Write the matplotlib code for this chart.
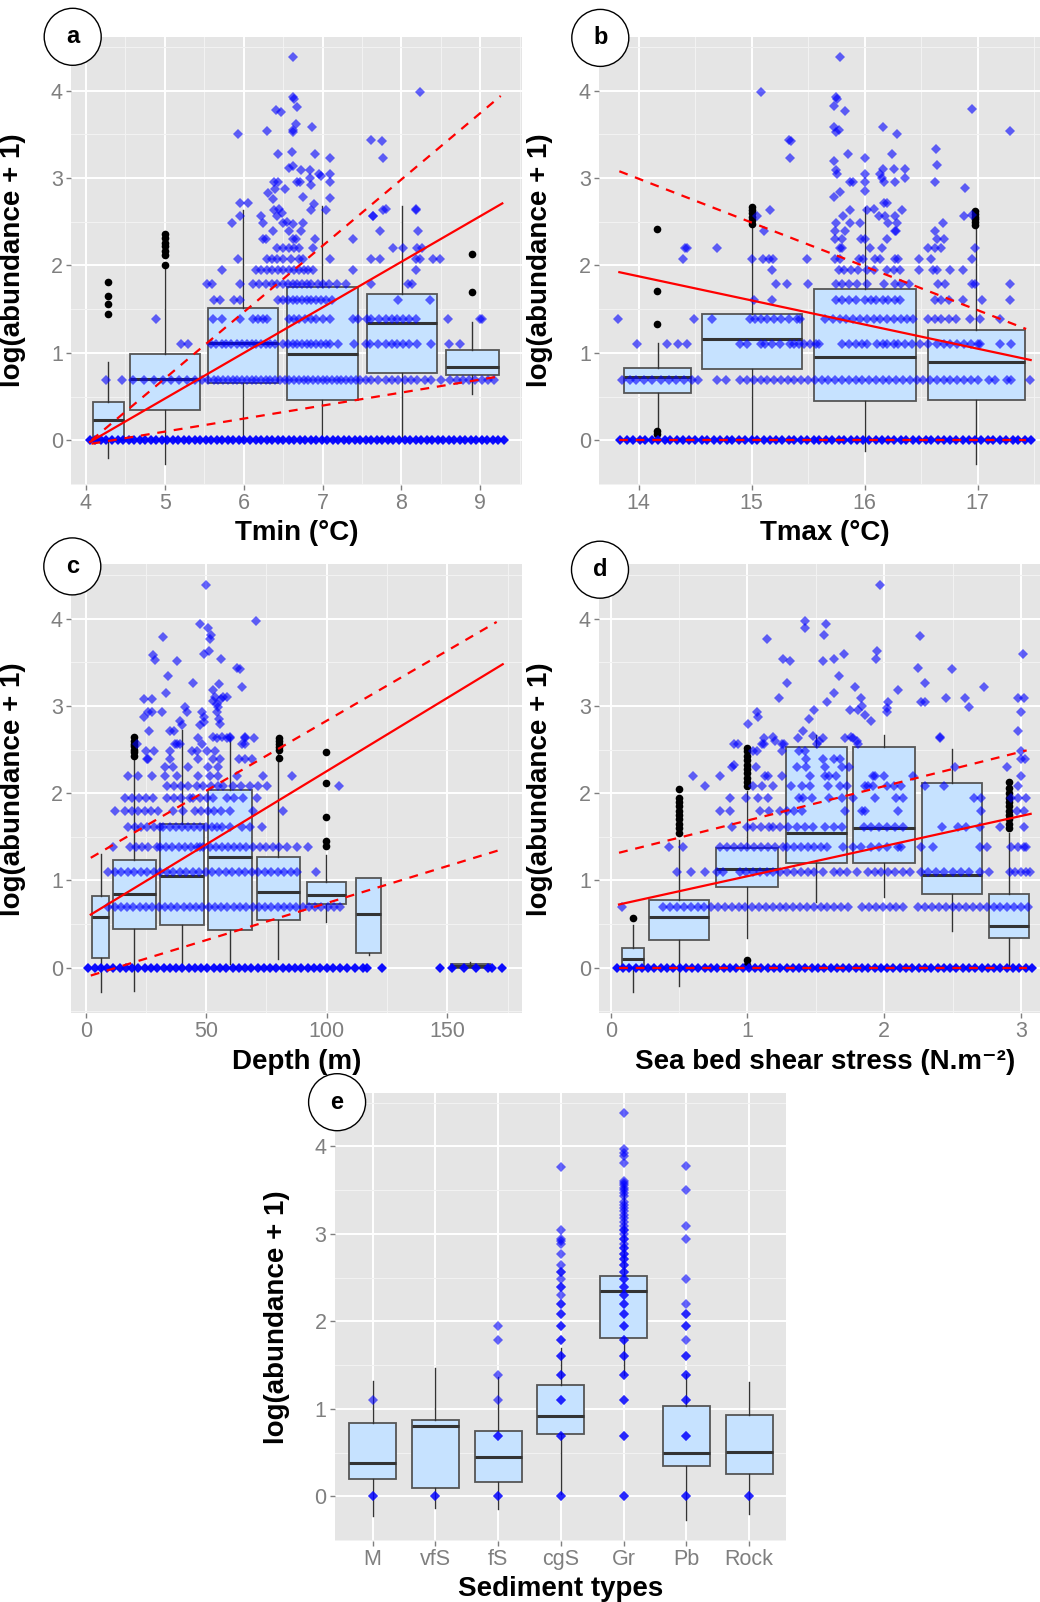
import matplotlib
matplotlib.use('Agg')
import matplotlib.pyplot as plt
from matplotlib.patches import Ellipse
from matplotlib.ticker import FixedLocator

plt.rcParams['font.family'] = ['Liberation Sans', 'DejaVu Sans']

W, H = 1040, 1602

# ---------------- shared discrete levels of log(abundance+1) ----------------
levels = [0.0, 0.693, 1.099, 1.386, 1.609, 1.792, 1.946, 2.079, 2.197, 2.303, 2.398, 2.485, 2.565, 2.639]

# ---------------- panel a : Tmin ----------------
tmin_rows = [
    [4.05,4.12,4.19,4.26,4.33,4.40,4.47,4.54,4.61,4.68,4.75,4.82,4.89,4.96,5.03,5.10,5.17,5.24,5.31,5.38,5.45,5.52,5.59,5.66,5.73,5.80,5.87,5.94,6.01,6.08,6.15,6.22,6.29,6.36,6.43,6.50,6.57,6.64,6.71,6.78,6.85,6.92,6.99,7.06,7.13,7.20,7.27,7.34,7.41,7.48,7.55,7.62,7.69,7.76,7.83,7.90,7.97,8.04,8.11,8.18,8.25,8.32,8.39,8.46,8.53,8.60,8.67,8.74,8.81,8.88,8.95,9.02,9.09,9.16,9.23,9.30],
    [4.26,4.46,4.6,4.73,4.86,4.98,5.08,5.18,5.28,5.38,5.47,5.55,5.62,5.68,5.74,5.8,5.86,5.92,5.98,6.04,6.1,6.16,6.22,6.28,6.34,6.4,6.46,6.52,6.58,6.64,6.7,6.76,6.82,6.88,6.94,7.0,7.06,7.12,7.18,7.24,7.3,7.36,7.42,7.48,7.55,7.62,7.7,7.8,7.88,7.96,8.05,8.12,8.2,8.3,8.38,8.5,8.62,8.7,8.78,8.86,8.94,9.02,9.1,9.18],
    [5.2,5.3,5.58,5.65,5.72,5.78,5.84,5.92,5.98,6.04,6.1,6.16,6.22,6.28,6.34,6.4,6.5,6.56,6.62,6.68,6.74,6.8,6.86,6.92,6.98,7.04,7.1,7.2,7.4,7.55,7.6,7.7,7.8,7.88,7.95,8.02,8.1,8.2,8.38,8.6,8.74],
    [4.89,5.61,5.72,5.95,6.12,6.18,6.24,6.3,6.58,6.64,6.7,6.78,6.85,6.92,7.0,7.1,7.39,7.45,7.56,7.62,7.72,7.8,7.88,7.95,8.02,8.1,8.18,8.59,9.0,9.02],
    [5.62,5.7,5.88,5.95,6.44,6.5,6.56,6.62,6.68,6.74,6.8,6.86,6.92,6.98,7.05,7.12,7.96,8.36],
    [5.53,5.6,5.95,6.12,6.2,6.28,6.36,6.42,6.5,6.56,6.62,6.68,6.74,6.8,6.86,6.94,7.0,7.08,7.18,7.3,7.62,8.08,8.14],
    [5.72,6.16,6.22,6.3,6.36,6.44,6.5,6.58,6.64,6.7,6.76,6.82,6.88,7.39,8.19],
    [5.93,6.29,6.36,6.42,6.5,6.6,6.7,6.75,7.09,7.62,7.73,8.19,8.24,8.4,8.49],
    [6.42,6.5,6.58,6.64,6.7,6.88,7.9,8.02,8.2,8.26],
    [6.25,6.28,6.63,6.66,6.9,7.39],
    [6.37,6.58,6.73,7.73,8.21],
    [5.85,6.25,6.5,6.75],
    [5.95,6.22,6.42,7.64],
    [6.39,6.86,7.05,7.77,8.19],
]
tmin_hi_x = [5.93,5.95,6.05,6.29,6.41,6.47,6.61,6.63,6.63,6.64,6.68,6.66,6.62,6.63,6.87,8.23,7.62,7.76,7.77,7.1,6.9,6.44,6.58,6.62,6.73,6.84,6.96,6.98,7.09,7.1,6.84,6.86,6.72,6.67,6.39,6.43,6.31,6.37,6.75,6.89,7.09,7.64,7.8,8.19,6.4,6.53,6.45,6.48,6.55,6.62]
tmin_hi_y = [3.51,2.72,2.72,3.54,3.78,3.76,3.30,4.38,3.93,3.9,3.81,3.62,3.53,3.55,3.59,3.98,3.44,3.42,3.23,3.23,3.27,3.27,3.12,3.14,3.09,3.09,3.05,3.02,3.05,2.95,3.0,2.92,2.95,2.95,2.95,2.95,2.83,2.76,2.78,2.7,2.77,2.57,2.65,2.65,2.88,2.88,2.65,2.6,2.5,2.48]
tmin_out_x = [4.28,4.28,4.28,4.28,5.0,5.0,5.0,5.0,5.0,5.0,5.0,8.9,8.9]
tmin_out_y = [1.81,1.65,1.56,1.45,2.01,2.12,2.17,2.22,2.26,2.31,2.36,2.13,1.70]
tmin_box_pos = [4.285, 5.0, 5.997, 6.999, 8.012, 8.9]
tmin_box_w = [0.385, 0.893, 0.887, 0.906, 0.884, 0.68]
tmin_q1 = [0.0, 0.347, 0.65, 0.457, 0.768, 0.741]
tmin_med = [0.236, 0.70, 1.107, 0.985, 1.34, 0.835]
tmin_q3 = [0.433, 0.989, 1.517, 1.753, 1.675, 1.028]
tmin_lo = [-0.2, -0.276, 0.0, 0.0, 0.0, 0.53]
tmin_hi = [0.89, 1.98, 2.63, 2.68, 2.68, 1.35]
tmin_fit_x = [4.05, 9.28]
tmin_fit_y = [-0.02, 2.71]
tmin_up_x = [4.07, 9.26]
tmin_up_y = [0.0, 3.94]
tmin_lw_x = [4.07, 9.24]
tmin_lw_y = [-0.04, 0.73]

# ---------------- panel b : Tmax ----------------
tmax_rows = [
    [13.84,13.90,13.95,14.01,14.06,14.12,14.17,14.23,14.28,14.34,14.39,14.45,14.50,14.56,14.61,14.67,14.72,14.78,14.83,14.89,14.94,15.00,15.05,15.11,15.16,15.22,15.27,15.33,15.38,15.44,15.49,15.55,15.60,15.66,15.71,15.77,15.82,15.88,15.93,15.99,16.04,16.10,16.15,16.21,16.26,16.32,16.37,16.43,16.48,16.54,16.59,16.65,16.70,16.76,16.81,16.87,16.92,16.98,17.03,17.09,17.14,17.20,17.25,17.31,17.36,17.42,17.47],
    [13.85,13.92,13.98,14.05,14.12,14.2,14.27,14.33,14.4,14.47,14.53,14.69,14.77,14.9,14.96,15.02,15.08,15.14,15.2,15.26,15.32,15.38,15.44,15.5,15.56,15.62,15.68,15.74,15.8,15.86,15.92,15.98,16.04,16.1,16.16,16.22,16.28,16.34,16.4,16.46,16.52,16.58,16.64,16.7,16.76,16.82,16.88,16.94,17.0,17.1,17.15,17.26,17.3,17.46],
    [13.99,14.25,14.35,14.43,14.9,14.96,15.08,15.12,15.18,15.25,15.34,15.38,15.42,15.46,15.52,15.57,15.6,15.8,15.86,15.92,15.98,16.02,16.11,16.16,16.2,16.26,16.3,16.36,16.42,16.49,16.56,16.64,16.7,16.76,16.82,16.88,16.94,17.0,17.02,17.2,17.3],
    [13.82,14.49,14.65,14.99,15.03,15.08,15.14,15.2,15.26,15.33,15.4,15.43,15.65,15.72,15.78,15.84,15.9,15.96,16.02,16.08,16.14,16.2,16.26,16.32,16.38,16.43,16.56,16.62,16.68,16.75,16.81,16.93,17.02,17.2],
    [15.02,15.18,15.75,15.8,15.86,15.92,16.0,16.06,16.1,16.16,16.21,16.27,16.31,16.62,16.68,16.75,16.87,17.04,17.29],
    [15.22,15.31,15.5,15.75,15.8,15.86,15.93,16.02,16.17,16.27,16.32,16.39,16.65,16.71,16.95,16.98,17.29],
    [15.18,15.77,15.82,15.88,15.94,16.02,16.08,16.2,16.26,16.31,16.48,16.61,16.64,16.76,16.87],
    [14.39,15.0,15.1,15.15,15.19,15.49,15.74,15.78,15.95,15.99,16.09,16.14,16.27,16.3,16.48,16.59,16.95],
    [14.41,14.43,14.69,15.78,15.8,16.05,16.15,16.56,16.62,16.68,16.98],
    [15.74,15.8,15.97,16.0,16.2,16.64,16.7],
    [15.11,15.74,15.83,16.27,16.28,16.62],
    [15.75,15.87,15.96,16.21,16.29,16.69],
    [15.05,15.81,16.13,16.18,16.27,16.88],
    [15.16,15.87,16.02,16.33],
]
tmax_hi_x = [15.08,15.33,15.35,15.34,15.73,15.75,15.76,15.73,15.75,15.77,15.78,15.83,15.73,15.75,15.76,15.73,15.78,15.85,15.87,15.9,16.0,16.0,16.0,16.0,16.16,16.14,16.15,16.16,16.24,16.26,16.29,16.36,16.36,16.17,16.27,16.63,16.64,16.62,16.89,16.95,17.29,16.17,16.2,16.08,16.95]
tmax_hi_y = [3.98,3.44,3.42,3.23,3.82,3.93,3.9,3.59,3.53,3.55,4.38,3.77,3.19,3.09,3.05,2.78,2.84,3.27,2.95,2.95,3.23,3.05,2.95,2.85,3.59,3.05,3.0,3.1,3.27,3.1,3.51,3.1,3.0,2.95,2.95,3.33,3.15,2.95,2.89,3.79,3.54,2.72,2.72,2.65,2.58]
tmax_out_x = [14.16,14.16,14.16,14.16,14.16,15.0,15.0,15.0,15.0,15.0,15.0,16.98,16.98,16.98,16.98,16.98,16.98]
tmax_out_y = [2.42,1.71,1.33,0.07,0.1,2.48,2.52,2.56,2.6,2.64,2.67,2.46,2.5,2.53,2.56,2.59,2.62]
tmax_box_pos = [14.168, 15.004, 16.004, 16.988]
tmax_box_w = [0.59, 0.887, 0.908, 0.861]
tmax_q1 = [0.544, 0.82, 0.445, 0.465]
tmax_med = [0.729, 1.155, 0.958, 0.898]
tmax_q3 = [0.828, 1.442, 1.726, 1.261]
tmax_lo = [0.11, 0.0, -0.126, -0.276]
tmax_hi = [1.115, 2.44, 2.67, 2.43]
tmax_fit_x = [13.83, 17.47]
tmax_fit_y = [1.923, 0.918]
tmax_up_x = [13.83, 17.43]
tmax_up_y = [3.078, 1.273]
tmax_lw_x = [13.83, 17.43]
tmax_lw_y = [0.0, 0.0]

# ---------------- panel c : Depth ----------------
depth_rows = [
    [1.1,3.7,6.3,8.9,11.5,14.1,16.7,19.3,21.9,24.5,27.1,29.7,32.3,34.9,37.5,40.1,42.7,45.3,47.9,50.5,53.1,55.7,58.3,60.9,63.5,66.1,68.7,71.3,73.9,76.5,79.1,81.7,84.3,86.9,89.5,92.1,94.7,97.3,99.9,102.5,105.5,108.3,111.7,115.2,116.5,122.8,147,152,157,162,167,168.4,172.5],
    [9.4,12,14.6,17.2,19.8,22.4,25,27.6,30.2,32.8,35.4,38,40.6,43.2,45.8,48.4,51,53.6,56.2,58.8,61.4,64,66.6,69.2,71.8,74.4,77,79.6,82.2,84.8,87.4,90,92.6,95.2,97.8,100.4,103,105.5],
    [9.4,12.1,14.8,17.5,20.2,22.9,25.6,28.3,31,33.7,36.4,39.1,41.8,44.5,47.2,49.9,52.6,55.3,58,60.7,63.4,66.1,68.8,71.5,74.2,76.9,79.6,82.3,85,87.5,95.5],
    [11.5,18.4,21,23.5,26,29.4,30.8,33.5,36,38.5,41,43.5,46,47.4,48.8,51.5,54,56.5,59,61.5,64,66.5,69.5,72.3,75,77.5,80,83.4,87.5,92.4],
    [17.7,20.3,23,25.6,28.3,30.8,32.2,35,37.5,40,42.5,45,47.5,50,52.5,54.3,56.4,59.9,64.7,68,73],
    [12.2,16.3,19,21.7,24.4,27,30,36.4,40.5,45.3,48,50.7,53.4,56.1,59.9,69.5,82],
    [16.3,19,22,25,28,33.6,36.5,39.5,43.3,44.7,47.5,50.3,53,58.5,61.5,65.4,70.9],
    [33.6,36.5,39.5,42.5,46,48.8,52,55,57.1,61.2,64.5,68,71.5,75.1,105.1],
    [17.7,21.8,27.4,32.9,37.7,46.7,51.6,55,62.6,73.7,85.4],
    [32.9,36.4,42.6,50.9,55],
    [25.3,26,35,46.7,53,55.8,63.4,66.1,68.9],
    [25,28.3,35,44,46,50.2,53.6],
    [21.4,37,39.1,48.1,66.1],
    [46.7,54.3,58.5,60,66.1,70],
]
depth_hi_x = [49.8,47.4,50.9,51.8,51.5,32.2,38,28.1,28.8,34.3,33.2,44.4,49.2,51.3,56,52.7,55.2,62.6,64,65,70.6,24.3,27.7,24,25.7,27.4,31.8,26.2,35,36.6,37.7,41.2,41.9,39.1,39.8,48.1,49,47.4,49.1,52.9,53.6,54.3,55,56,57.1,54.6,55.3,55.8,58.5,53,56.4,60,64.7,66]
depth_hi_y = [4.39,3.94,3.9,3.82,3.77,3.79,3.52,3.59,3.53,3.34,3.15,3.26,3.6,3.63,3.54,3.18,3.25,3.44,3.42,3.22,3.98,3.08,3.08,2.88,2.93,2.93,2.93,2.71,2.71,2.71,2.57,2.99,2.93,2.83,2.78,2.93,2.88,2.78,2.82,3.06,3.1,3.02,2.99,3.08,3.1,2.93,2.85,2.8,3.1,2.65,2.65,2.65,2.57,2.65]
depth_out_x = [20.2,20.2,20.2,20.2,20.2,20.2,20.2,80,80,80,80,80,80,99.5,99.5,99.5,99.5,99.5]
depth_out_y = [2.43,2.47,2.5,2.54,2.57,2.6,2.64,2.4,2.5,2.53,2.56,2.6,2.63,2.47,2.12,1.73,1.45,1.4]
depth_box_pos = [6.15, 20.1, 39.95, 59.95, 79.9, 99.8, 117.4, 159.55]
depth_box_w = [6.7, 17.8, 17.9, 18.1, 18.0, 16.0, 10.2, 16.3]
depth_q1 = [0.109, 0.446, 0.492, 0.434, 0.543, 0.729, 0.174, 0.0]
depth_med = [0.581, 0.845, 1.047, 1.267, 0.872, 0.833, 0.616, 0.02]
depth_q3 = [0.826, 1.24, 1.647, 2.035, 1.267, 0.98, 1.027, 0.04]
depth_lo = [-0.283, -0.264, 0.04, 0.04, 0.1, 0.523, 0.143, 0.0]
depth_hi = [1.3, 2.4, 2.73, 2.65, 2.55, 1.287, 1.027, 0.07]
depth_fit_x = [2.1, 173]
depth_fit_y = [0.609, 3.48]
depth_up_x = [2.1, 170.5]
depth_up_y = [1.26, 3.965]
depth_lw_x = [2.1, 171.2]
depth_lw_y = [-0.09, 1.345]

# ---------------- panel d : sea bed shear stress ----------------
shear_rows = [
    [0.044,0.09,0.136,0.182,0.228,0.274,0.32,0.366,0.412,0.458,0.504,0.55,0.596,0.642,0.688,0.734,0.78,0.826,0.872,0.918,0.964,1.01,1.056,1.102,1.148,1.194,1.24,1.286,1.332,1.378,1.424,1.47,1.516,1.562,1.608,1.654,1.7,1.746,1.792,1.838,1.884,1.93,1.976,2.022,2.068,2.114,2.16,2.206,2.252,2.298,2.344,2.39,2.436,2.482,2.528,2.574,2.62,2.666,2.712,2.758,2.804,2.85,2.896,2.942,2.988,3.034,3.078],
    [0.08,0.385,0.435,0.485,0.535,0.585,0.635,0.685,0.735,0.785,0.835,0.885,0.935,0.985,1.035,1.085,1.135,1.185,1.235,1.285,1.335,1.385,1.435,1.485,1.535,1.585,1.635,1.685,1.735,1.84,1.89,1.94,1.99,2.04,2.09,2.14,2.25,2.3,2.35,2.4,2.45,2.5,2.55,2.6,2.65,2.7,2.75,2.8,2.85,2.9,2.95,3.0,3.05],
    [0.483,0.585,0.69,0.775,0.824,0.946,0.99,1.04,1.09,1.14,1.19,1.24,1.29,1.34,1.39,1.44,1.49,1.55,1.63,1.68,1.73,1.8,1.88,1.93,1.98,2.03,2.08,2.14,2.19,2.27,2.32,2.38,2.44,2.5,2.56,2.62,2.7,2.77,2.92,2.96,3.0,3.04,3.07],
    [0.427,0.527,0.8,0.85,0.9,0.95,1.0,1.05,1.1,1.15,1.2,1.26,1.29,1.34,1.39,1.44,1.49,1.54,1.58,1.7,1.77,1.83,1.9,1.96,2.02,2.1,2.12,2.27,2.36,2.7,2.75,2.93,2.98,3.02,3.04],
    [0.885,0.994,1.04,1.1,1.16,1.19,1.24,1.3,1.36,1.42,1.48,1.57,1.63,1.69,1.85,1.9,1.96,2.02,2.08,2.14,2.42,2.54,2.6,2.7,2.85,3.02],
    [0.8,0.87,1.09,1.16,1.24,1.29,1.34,1.4,1.71,1.84,1.86,2.1,2.71,2.97,3.02],
    [0.87,0.99,1.08,1.15,1.38,1.41,1.47,1.6,1.69,1.77,1.93,2.09,2.14,2.66,2.71,2.93,2.98,3.04],
    [0.69,1.04,1.11,1.19,1.32,1.4,1.46,1.59,1.68,1.73,1.86,1.88,1.92,2.02,2.07,2.12,2.3,2.44,2.98],
    [0.6,0.8,1.13,1.15,1.25,1.46,1.57,1.6,1.65,1.92,1.93,2.0,2.21,3.0],
    [0.89,1.06,1.36,1.43,1.57,1.69,1.74,2.52,2.9],
    [1.43,1.55,1.63,1.68,3.0,3.03],
    [1.04,1.07,1.25,1.38,1.42,3.0],
    [0.9,1.11,1.25,1.51,1.81],
    [1.12,1.37,1.55,1.71,1.77,2.41],
]
shear_hi_x = [1.969,1.421,1.421,1.574,1.56,1.146,1.258,1.312,1.292,1.233,1.55,1.633,1.708,1.67,1.633,1.585,1.49,1.448,1.405,1.786,1.83,1.835,1.81,1.86,1.9,1.75,1.94,1.95,2.02,2.03,2.02,2.1,2.262,2.25,2.295,2.27,2.3,2.45,2.495,2.59,2.62,2.73,3.017,2.98,3.02,3.0,2.98,2.41,1.067,1.08,1.002,0.93,0.9,1.19,1.12,1.2,1.265,1.52,1.48,1.76,1.8]
shear_hi_y = [4.39,3.98,3.9,3.94,3.81,3.77,3.54,3.52,3.27,3.09,3.52,3.54,3.6,3.34,3.15,3.05,2.95,2.85,2.72,3.22,3.09,3.0,2.95,2.9,2.83,2.95,3.54,3.63,2.98,3.05,2.93,3.18,3.8,3.44,3.26,3.05,3.05,3.09,3.42,3.09,2.99,3.22,3.6,3.09,3.09,2.93,2.71,2.65,2.93,2.88,2.79,2.57,2.33,2.65,2.57,2.6,2.57,2.6,2.66,2.65,2.6]
shear_out_x = [0.16] + [0.5]*10 + [1.0]*12 + [2.91]*11
shear_out_y = [0.57,1.55,1.6,1.65,1.7,1.75,1.8,1.85,1.9,1.95,2.05,2.08,2.13,2.18,2.23,2.28,2.33,2.38,2.43,2.48,2.52,0.085,0.03,1.6,1.65,1.7,1.75,1.8,1.85,1.9,1.95,2.0,2.06,2.13]
shear_box_pos = [0.16, 0.5, 1.0, 1.503, 2.0, 2.494, 2.911]
shear_box_w = [0.161, 0.443, 0.453, 0.446, 0.451, 0.439, 0.295]
shear_q1 = [0.0, 0.318, 0.93, 1.202, 1.202, 0.841, 0.337]
shear_med = [0.105, 0.578, 1.132, 1.547, 1.6, 1.066, 0.473]
shear_q3 = [0.221, 0.771, 1.368, 2.527, 2.527, 2.12, 0.841]
shear_lo = [-0.283, -0.213, 0.337, 0.756, 0.806, 0.426, 0.0]
shear_hi = [0.484, 1.47, 2.03, 2.674, 2.663, 2.51, 1.55]
shear_fit_x = [0.061, 3.071]
shear_fit_y = [0.725, 1.764]
shear_up_x = [0.061, 3.042]
shear_up_y = [1.318, 2.492]
shear_lw_x = [0.061, 3.042]
shear_lw_y = [0.0, 0.0]

# ---------------- panel e : sediment types ----------------
sed_types = ['M', 'vfS', 'fS', 'cgS', 'Gr', 'Pb', 'Rock']
sed_M = [0, 0, 1.099]
sed_vfS = [0, 0]
sed_fS = [0, 0, 0.693, 0.693, 1.099, 1.386, 1.792, 1.946]
sed_cgS = [0, 0, 0.693, 0.693, 1.099, 1.099, 1.386, 1.386, 1.609, 1.609, 1.792, 1.792, 1.946, 1.946, 2.079, 2.079, 2.197, 2.197, 2.303, 2.398, 2.398, 2.485, 2.565, 2.565, 2.639, 2.77, 2.89, 2.92, 2.94, 3.05, 3.76]
sed_Gr = [0, 0, 0.693, 0.693, 1.099, 1.099, 1.386, 1.386, 1.609, 1.609, 1.792, 1.792, 1.946, 1.946, 2.079, 2.079, 2.197, 2.197, 2.303, 2.303, 2.398, 2.398, 2.485, 2.485, 2.565, 2.565, 2.639, 2.639, 2.708, 2.708, 2.773, 2.773, 2.833, 2.833, 2.89, 2.944, 2.944, 2.996, 3.045, 3.045, 3.091, 3.136, 3.178, 3.219, 3.258, 3.296, 3.33, 3.37, 3.43, 3.47, 3.5, 3.53, 3.555, 3.58, 3.61, 3.81, 3.89, 3.93, 3.97, 4.38]
sed_Pb = [0, 0, 0.693, 0.693, 1.099, 1.099, 1.386, 1.386, 1.609, 1.609, 1.792, 1.946, 1.946, 2.079, 2.079, 2.197, 2.485, 2.94, 3.09, 3.5, 3.78]
sed_Rock = [0, 0]
sed_q1 = [0.2, 0.097, 0.163, 0.713, 1.81, 0.349, 0.26]
sed_med = [0.376, 0.802, 0.453, 0.919, 2.345, 0.492, 0.504]
sed_q3 = [0.833, 0.872, 0.752, 1.275, 2.523, 1.035, 0.926]
sed_lo = [-0.225, -0.128, -0.14, 0.03, 1.39, -0.275, -0.205]
sed_hi = [1.318, 1.469, 1.364, 1.694, 3.55, 1.40, 1.306]

# ---------------- styling ----------------
BG = '#E5E5E5'
BOX_FILL = '#C6E2FF'
PT_COL = '#0000FF'
TICK_COL = '#7F7F7F'
PT_MS = 4.7
PT_ALPHA = 0.6
ZERO_ALPHA = 0.95   # the zero row is many overlapping observations
TITLE_FS = 20
TICK_FS = 15.5
DASH = (0, (4.0, 3.5))


def rect(left, top, right, bottom):
    return [left / W, 1 - bottom / H, (right - left) / W, (bottom - top) / H]


def style_axes(ax, xlim, ylim, xmaj, xmin, xticklabels=None):
    ax.set_facecolor(BG)
    for s in ax.spines.values():
        s.set_visible(False)
    ax.set_xlim(*xlim)
    ax.set_ylim(*ylim)
    ax.xaxis.set_major_locator(FixedLocator(xmaj))
    ax.xaxis.set_minor_locator(FixedLocator(xmin))
    ax.yaxis.set_major_locator(FixedLocator([0, 1, 2, 3, 4]))
    ax.yaxis.set_minor_locator(FixedLocator([-0.5, 0.5, 1.5, 2.5, 3.5, 4.5]))
    if xticklabels is not None:
        ax.set_xticklabels(xticklabels)
    ax.set_axisbelow(True)
    ax.grid(which='major', color='white', lw=1.4)
    ax.grid(which='minor', color='#F2F2F2', lw=0.8)
    ax.tick_params(which='major', length=3.4, width=1.0, color=TICK_COL,
                   labelcolor=TICK_COL, labelsize=TICK_FS, pad=2.5)
    ax.tick_params(which='minor', length=0)


def draw_boxes(ax, pos, widths, q1, med, q3, lo, hi):
    stats = []
    for i in range(len(pos)):
        stats.append(dict(med=med[i], q1=q1[i], q3=q3[i], whislo=lo[i], whishi=hi[i], fliers=[]))
    ax.bxp(stats, positions=pos, widths=widths, patch_artist=True, showfliers=False,
           showcaps=False, manage_ticks=False,
           boxprops=dict(facecolor=BOX_FILL, edgecolor='#555555', lw=1.3),
           medianprops=dict(color='#333333', lw=2.2),
           whiskerprops=dict(color='#333333', lw=1.0), zorder=2)


def draw_rows(ax, rows):
    for lvl, xs in zip(levels, rows):
        a = ZERO_ALPHA if lvl == 0.0 else PT_ALPHA
        ax.plot(xs, [lvl] * len(xs), ls='none', marker='D', ms=PT_MS, mew=0,
                color=PT_COL, alpha=a, zorder=3)


def draw_pts(ax, xs, ys):
    ax.plot(xs, ys, ls='none', marker='D', ms=PT_MS, mew=0,
            color=PT_COL, alpha=PT_ALPHA, zorder=3)


def draw_out(ax, xs, ys):
    ax.plot(xs, ys, ls='none', marker='o', ms=5.5, mew=0, color='black', zorder=2.5)


def draw_fit(ax, fx, fy, ux, uy, lx, ly):
    ax.plot(fx, fy, color='red', lw=1.6, zorder=4)
    ax.plot(ux, uy, color='red', lw=1.6, ls=DASH, zorder=4)
    ax.plot(lx, ly, color='red', lw=1.6, ls=DASH, zorder=4)


def labels(ax, xlab, ylab, ylab_x, xlab_y):
    ax.set_xlabel(xlab, fontsize=TITLE_FS, fontweight='bold', color='black')
    ax.set_ylabel(ylab, fontsize=TITLE_FS, fontweight='bold', color='black')
    ax.xaxis.set_label_coords(0.5, xlab_y)
    ax.yaxis.set_label_coords(ylab_x, 0.5)


fig = plt.figure(figsize=(W / 100, H / 100), dpi=100)
fig.patch.set_facecolor('white')

YLAB = 'log(abundance + 1)'

# panel a
ax = fig.add_axes(rect(71, 36.5, 522, 484.8))
style_axes(ax, (3.81, 9.53), (-0.51, 4.62), [4, 5, 6, 7, 8, 9], [3.5, 4.5, 5.5, 6.5, 7.5, 8.5, 9.5])
draw_boxes(ax, tmin_box_pos, tmin_box_w, tmin_q1, tmin_med, tmin_q3, tmin_lo, tmin_hi)
draw_out(ax, tmin_out_x, tmin_out_y)
draw_rows(ax, tmin_rows)
draw_pts(ax, tmin_hi_x, tmin_hi_y)
draw_fit(ax, tmin_fit_x, tmin_fit_y, tmin_up_x, tmin_up_y, tmin_lw_x, tmin_lw_y)
labels(ax, 'Tmin (°C)', YLAB, -0.1, -0.079)

# panel b
ax = fig.add_axes(rect(599, 36.5, 1051, 484.8))
style_axes(ax, (13.65, 17.65), (-0.51, 4.62), [14, 15, 16, 17], [13.5, 14.5, 15.5, 16.5, 17.5])
draw_boxes(ax, tmax_box_pos, tmax_box_w, tmax_q1, tmax_med, tmax_q3, tmax_lo, tmax_hi)
draw_out(ax, tmax_out_x, tmax_out_y)
draw_rows(ax, tmax_rows)
draw_pts(ax, tmax_hi_x, tmax_hi_y)
draw_fit(ax, tmax_fit_x, tmax_fit_y, tmax_up_x, tmax_up_y, tmax_lw_x, tmax_lw_y)
labels(ax, 'Tmax (°C)', YLAB, -0.102, -0.079)

# panel c
ax = fig.add_axes(rect(71, 564.3, 522, 1013.3))
style_axes(ax, (-6.1, 181.0), (-0.523, 4.626), [0, 50, 100, 150], [-25, 25, 75, 125, 175])
draw_boxes(ax, depth_box_pos, depth_box_w, depth_q1, depth_med, depth_q3, depth_lo, depth_hi)
draw_out(ax, depth_out_x, depth_out_y)
draw_rows(ax, depth_rows)
draw_pts(ax, depth_hi_x, depth_hi_y)
draw_fit(ax, depth_fit_x, depth_fit_y, depth_up_x, depth_up_y, depth_lw_x, depth_lw_y)
labels(ax, 'Depth (m)', YLAB, -0.1, -0.079)

# panel d
ax = fig.add_axes(rect(599, 564.3, 1051, 1013.3))
style_axes(ax, (-0.0855, 3.22), (-0.523, 4.626), [0, 1, 2, 3], [0.5, 1.5, 2.5, 3.5])
draw_boxes(ax, shear_box_pos, shear_box_w, shear_q1, shear_med, shear_q3, shear_lo, shear_hi)
draw_out(ax, shear_out_x, shear_out_y)
draw_rows(ax, shear_rows)
draw_pts(ax, shear_hi_x, shear_hi_y)
draw_fit(ax, shear_fit_x, shear_fit_y, shear_up_x, shear_up_y, shear_lw_x, shear_lw_y)
labels(ax, 'Sea bed shear stress (N.m\u207b\u00b2)', YLAB, -0.102, -0.079)

# panel e
ax = fig.add_axes(rect(334.7, 1093, 786.2, 1541))
cats = list(range(1, len(sed_types) + 1))
style_axes(ax, (0.397, 7.59), (-0.51, 4.61), cats, [], sed_types)
draw_boxes(ax, cats, [0.75] * 7, sed_q1, sed_med, sed_q3, sed_lo, sed_hi)
for c, vals in zip(cats, [sed_M, sed_vfS, sed_fS, sed_cgS, sed_Gr, sed_Pb, sed_Rock]):
    draw_pts(ax, [c] * len(vals), vals)
labels(ax, 'Sediment types', YLAB, -0.099, -0.079)

# panel letters
for letter, cx, cy in [('a', 72.7, 36.8), ('b', 600.3, 37.9), ('c', 72.3, 566.4), ('d', 600, 569.7), ('e', 337.1, 1102.2)]:
    fig.add_artist(Ellipse((cx / W, 1 - cy / H), 57 / W, 57 / H, transform=fig.transFigure,
                           facecolor='white', edgecolor='black', lw=1.0, zorder=10))
    fig.text(cx / W, 1 - cy / H, letter, ha='center', va='center', fontsize=17,
             fontweight='bold', color='black', zorder=11)

fig.savefig('out.png', dpi=100, facecolor='white')
